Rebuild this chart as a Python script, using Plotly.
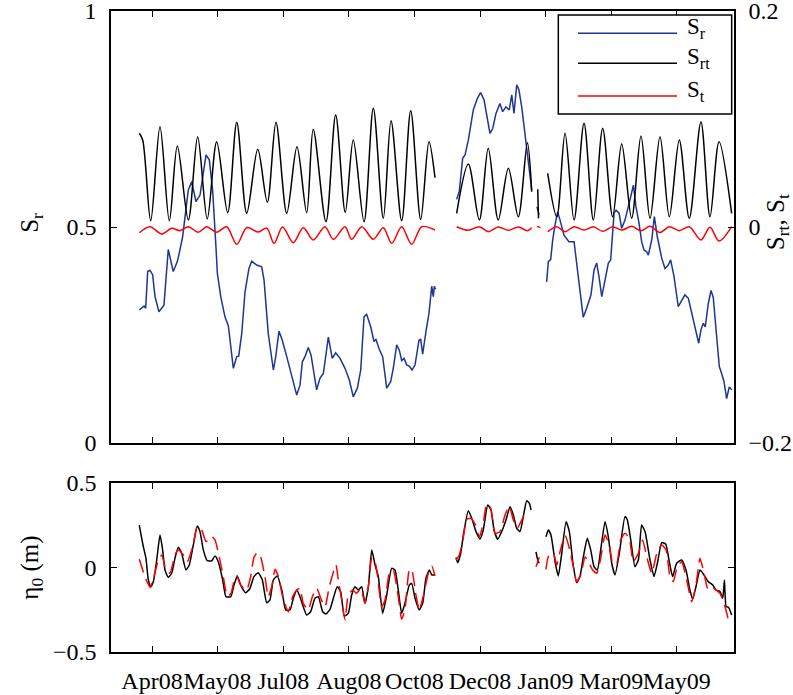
import plotly.graph_objects as go

# ---------------- data (x in days relative to first tick) ----------------
tick_days = [0, 50, 100, 150, 200, 250, 300, 350, 400]
tick_labels = ["Apr08", "May08", "Jul08", "Aug08", "Oct08", "Dec08", "Jan09", "Mar09", "May09"]

# S_r (left axis), None = gap
sr_day = [-9.7, -6.1, -4.8, -3.3, -1.5, 0.5, 2.3, 5.3, 9.1, 12.4, 16.2, 19.3, 21.3, 23.4, 25.2, 27.7, 30.3, 33.5,
          36.6, 41.2, 43.7, 46.2, 48.8, 49.8, 52.4, 55.6, 58.2, 62.0, 64.6, 66.1, 68.4, 70.9, 73.9, 76.0, 79.8,
          83.6, 85.4, 88.6, 92.5, 94.3, 96.8, 99.3, 102.7, 106.5, 110.3, 112.8, 114.6, 116.6, 119.1, 121.2,
          125.5, 128.0, 130.6, 134.4, 137.4, 140.0, 143.3, 147.1, 150.4, 153.4, 156.5, 159.1, 161.6, 163.6,
          166.7, 169.2, 170.7, 173.2, 175.8, 178.9, 181.9, 183.9, 186.5, 188.5, 190.3, 192.1, 194.1, 196.1,
          198.2, 200.5, 203.5, 204.8, 206.3, 208.8, 211.1, 213.2, 214.4, 215.2, 216.2, None,
          232.2, 234.2, 236.8, 238.6, 241.1, 244.9, 248.0, 250.5, 253.1, 255.1, 257.6, 259.7, 262.2, 265.2,
          267.3, 269.8, 272.3, 274.2, 275.9, 278.0, 279.7, 281.8, 285.1, 287.6, 289.4, None,
          293.4, 295.0, None,
          300.8, 302.1, 303.9, 305.4, 307.2, 309.2, 311.0, 314.0, 317.8, 321.7, 324.9, 328.7, 331.3, 334.6,
          336.9, 338.9, 340.7, 342.8, 345.3, 347.8, 349.6, 352.2, 353.7, 356.0, 358.0, 360.5, 364.3, 366.9,
          368.9, 371.2, 373.2, 375.0, 377.0, 378.3, 380.9, 382.9, 385.1, 388.5, 391.0, 393.5, 395.3, 397.9,
          401.1, 403.7, 406.2, 408.8, 412.1, 415.2, 416.7, 418.4, 420.2, 421.7, 424.0, 426.1, 427.8, 430.4,
          432.4, 434.2, 436.0, 438.0, 440.0, 441.8]
sr_val = [0.308, 0.317, 0.312, 0.397, 0.400, 0.389, 0.339, 0.304, 0.319, 0.448, 0.397, 0.420, 0.447, 0.478, 0.524,
          0.586, 0.605, 0.559, 0.574, 0.667, 0.655, 0.586, 0.451, 0.393, 0.339, 0.292, 0.271, 0.173, 0.200, 0.201,
          0.254, 0.350, 0.404, 0.421, 0.412, 0.408, 0.377, 0.254, 0.169, 0.200, 0.259, 0.238, 0.200, 0.153, 0.111,
          0.134, 0.188, 0.200, 0.221, 0.204, 0.123, 0.150, 0.161, 0.245, 0.196, 0.209, 0.196, 0.173, 0.146, 0.107,
          0.127, 0.169, 0.292, 0.298, 0.269, 0.235, 0.240, 0.217, 0.200, 0.127, 0.142, 0.173, 0.227, 0.215, 0.191,
          0.196, 0.181, 0.178, 0.169, 0.181, 0.238, 0.240, 0.206, 0.258, 0.300, 0.363, 0.339, 0.363, 0.356, None,
          0.564, 0.582, 0.659, 0.667, 0.701, 0.771, 0.798, 0.811, 0.794, 0.763, 0.717, 0.728, 0.763, 0.786, 0.767,
          0.778, 0.771, 0.806, 0.763, 0.829, 0.817, 0.778, 0.701, 0.632, 0.586, None,
          0.547, 0.528, None,
          0.373, 0.420, 0.425, 0.470, 0.505, 0.535, 0.516, 0.481, 0.466, 0.466, 0.385, 0.291, 0.312, 0.343, 0.400,
          0.417, 0.385, 0.339, 0.377, 0.416, 0.424, 0.532, 0.539, 0.532, 0.497, 0.516, 0.5625, 0.597, 0.547, 0.509,
          0.466, 0.447, 0.443, 0.435, 0.470, 0.524, 0.478, 0.428, 0.404, 0.412, 0.424, 0.385, 0.316, 0.331, 0.343,
          0.335, 0.289, 0.246, 0.231, 0.262, 0.277, 0.269, 0.323, 0.353, 0.337, 0.246, 0.177, 0.161, 0.142, 0.103,
          0.130, 0.123]

# S_rt (right axis)
srt_day = [-9.7, -7.1, -1.0, 6.1, 13.2, 19.3, 27.7, 34.8, 42.1, 49.3, 57.7, 64.6, 72.2, 80.6, 87.9, 94.5, 102.7,
           110.5, 117.9, 122.9, 132.6, 140.0, 147.3, 153.4, 161.6, 168.7, 176.3, 182.2, 190.3, 197.2, 204.8, 211.1,
           215.7, None,
           232.2, 241.1, 249.5, 256.3, 263.9, 271.6, 279.2, 286.1, 289.4, None,
           294.0, 294.6, None,
           301.6, 308.5, 314.8, 321.7, 329.3, 336.4, 343.5, 351.1, 358.0, 365.6, 372.7, 379.6, 387.2, 394.3,
           401.9, 409.5, 418.4, 425.3, 432.2, 441.8]
srt_val = [0.0868, 0.0806, 0.0058, 0.0929, 0.0058, 0.075, 0.0065, 0.0836, 0.0074, 0.079, 0.0132, 0.0969, 0.0127,
           0.0719, 0.0229, 0.0969, 0.0127, 0.0744, 0.0132, 0.0905, 0.0049, 0.1037, 0.0136, 0.0806, 0.0049, 0.1099,
           0.0081, 0.0984, 0.0058, 0.1077, 0.0071, 0.079, 0.0456, None,
           0.0127, 0.0583, 0.0065, 0.0729, 0.0065, 0.0544, 0.0095, 0.0781, 0.0327, None,
           0.035, 0.008, None,
           0.0497, 0.0095, 0.0868, 0.0065, 0.096, 0.0065, 0.0914, 0.0095, 0.0769, 0.0081, 0.0843, 0.0081, 0.0836,
           0.0095, 0.0806, 0.0081, 0.0972, 0.0095, 0.079, 0.0127]

# S_t (right axis)
st_day = [-9.7, -1.5, 7.4, 15.0, 21.3, 27.7, 35.3, 41.7, 49.3, 56.9, 64.6, 72.2, 81.0, 87.5, 93.0, 99.5, 107.7,
          115.3, 122.9, 131.8, 138.2, 147.1, 152.2, 159.9, 168.7, 176.3, 182.7, 190.3, 197.9, 205.6, 215.7, None,
          232.2, 241.1, 249.5, 256.3, 263.9, 271.6, 279.2, 286.1, 289.4, None,
          293.4, 296.1, None,
          301.6, 308.5, 314.8, 321.7, 329.3, 336.4, 343.5, 351.1, 358.0, 365.6, 372.7, 379.6, 387.2, 394.3,
          401.9, 409.5, 418.4, 425.3, 432.2, 441.8]
st_val = [-0.0053, 0.0003, -0.0065, -0.0012, -0.0034, 0.0003, -0.0049, 0.0003, -0.0049, 0.0003, -0.016, -0.0006,
          -0.0046, -0.0010, -0.0151, 0.0, -0.0145, -0.0006, -0.012, 0.0003, -0.0114, 0.0003, -0.0114, 0.0003,
          -0.0114, -0.0006, -0.0151, 0.0003, -0.016, 0.0003, -0.0028, None,
          0.0003, -0.003, 0.0003, -0.0043, 0.0, -0.003, 0.0, -0.0034, -0.0006, None,
          0.0006, -0.0006, None,
          -0.0043, 0.0003, -0.0043, 0.0003, -0.0028, 0.0003, -0.004, 0.0003, -0.0028, 0.0006, -0.0034, 0.0006,
          -0.005, 0.0003, -0.0034, 0.0003, -0.012, -0.0003, -0.013, 0.0003]

# eta_0 observed (black)
eta_day = [-9.7, -6.6, -4.6, -2.8, -1.0, 1.0, 3.6, 6.1, 8.1, 9.9, 12.4, 15.0, 17.5, 20.0, 22.6, 25.9, 28.4, 31.5,
           34.5, 36.6, 39.1, 42.1, 45.5, 48.0, 50.5, 53.9, 56.4, 60.0, 62.5, 65.0, 67.6, 71.4, 74.7, 77.7, 81.0,
           84.1, 87.4, 89.9, 92.5, 95.5, 98.9, 101.9, 105.2, 107.7, 110.3, 112.8, 114.8, 117.9, 120.9, 124.2,
           126.8, 130.1, 132.6, 135.7, 138.2, 141.2, 143.8, 146.6, 149.6, 152.2, 154.7, 157.2, 159.8, 162.3,
           164.9, 167.5, 170.0, 172.5, 175.8, 178.9, 182.7, 185.2, 187.7, 190.3, 192.8, 196.1, 197.9, 200.5,
           203.7, 206.3, 208.8, 211.4, 213.2, 215.7, None,
           231.7, 233.0, 235.3, 237.3, 241.1, 243.7, 247.0, 250.0, 252.5, 255.9, 258.4, 260.7, 263.5, 266.5,
           269.8, 272.9, 275.4, 278.0, 280.5, 283.0, 285.6, 287.6, 288.9, None,
           292.7, 293.7, 295.0, None,
           300.3, 302.1, 304.1, 305.9, 307.9, 309.7, 312.3, 315.6, 318.1, 320.7, 323.7, 326.2, 328.8, 331.8,
           334.4, 336.9, 339.4, 342.0, 345.3, 347.8, 350.4, 352.9, 356.2, 360.5, 362.3, 364.9, 368.1, 370.7,
           373.2, 375.8, 379.6, 382.6, 385.2, 388.5, 391.5, 394.3, 396.8, 399.9, 403.7, 407.0, 410.0, 412.1,
           414.6, 417.7, 420.7, 424.0, 427.4, 429.9, 433.0, 435.0, 436.3, 437.6, 439.4, 441.8]
eta_val = [0.251, 0.123, 0.054, -0.074, -0.114, -0.084, 0.044, 0.192, 0.104, -0.015, -0.058, -0.034, 0.054, 0.120,
           0.084, -0.015, 0.015, 0.133, 0.246, 0.212, 0.104, 0.040, 0.040, 0.068, 0.034, -0.074, -0.173, -0.173,
           -0.104, -0.050, -0.104, -0.149, -0.123, -0.054, -0.031, -0.074, -0.208, -0.192, -0.074, -0.050, -0.133,
           -0.251, -0.251, -0.182, -0.133, -0.173, -0.222, -0.281, -0.262, -0.182, -0.173, -0.262, -0.275, -0.247,
           -0.182, -0.114, -0.143, -0.287, -0.271, -0.163, -0.114, -0.133, -0.114, -0.212, -0.114, 0.104, 0.015,
           -0.054, -0.271, -0.163, -0.005, -0.015, -0.133, -0.271, -0.212, -0.104, -0.094, -0.182, -0.251, -0.212,
           -0.064, -0.015, -0.044, -0.044, None,
           0.060, 0.028, 0.084, 0.192, 0.336, 0.291, 0.212, 0.169, 0.222, 0.370, 0.340, 0.222, 0.167, 0.212, 0.281,
           0.360, 0.311, 0.232, 0.212, 0.301, 0.395, 0.380, 0.340, None,
           0.093, 0.054, 0.025, None,
           0.182, 0.222, 0.192, 0.104, 0.005, -0.050, 0.084, 0.271, 0.212, 0.034, -0.090, -0.054, 0.064, 0.173,
           0.104, 0.005, -0.015, 0.104, 0.271, 0.182, 0.025, -0.044, 0.084, 0.301, 0.281, 0.163, 0.005, 0.044,
           0.251, 0.212, 0.044, -0.054, 0.025, 0.147, 0.139, 0.034, -0.054, 0.025, 0.044, -0.015, -0.133, -0.188,
           -0.114, -0.015, -0.044, -0.084, -0.104, -0.133, -0.143, -0.182, -0.074, -0.232, -0.235, -0.281]

# eta_0 model (red dashed)
etam_day = [-9.7, -7.1, -5.3, -1.5, 1.5, 4.8, 7.4, 10.7, 13.7, 17.5, 20.0, 23.9, 26.9, 31.0, 34.5, 37.9, 41.2,
            45.5, 48.0, 51.3, 54.3, 57.4, 60.2, 62.7, 64.6, 67.6, 72.2, 75.2, 77.7, 80.3, 82.9, 86.1, 88.6, 91.2,
            93.8, 96.3, 99.6, 103.9, 107.2, 110.3, 112.8, 115.3, 119.1, 122.2, 125.5, 128.6, 131.9, 135.1, 140.2,
            142.0, 144.6, 147.1, 149.6, 153.0, 156.0, 159.1, 162.3, 164.9, 167.5, 169.2, 171.3, 175.1, 177.6,
            180.9, 183.9, 187.7, 190.3, 192.8, 196.1, 197.9, 201.2, 203.7, 207.3, 210.6, 213.2, 215.7, None,
            231.7, 234.2, 236.8, 239.9, 242.9, 246.2, 249.5, 252.5, 255.1, 258.2, 261.4, 265.2, 269.1, 272.3,
            275.4, 278.4, 281.8, 285.1, 286.1, None,
            292.7, 295.2, None,
            300.3, 302.1, 305.9, 308.5, 311.0, 314.8, 318.1, 321.1, 323.7, 326.8, 330.1, 332.6, 335.9, 339.0,
            342.0, 345.3, 348.6, 351.2, 354.2, 357.2, 360.5, 363.8, 366.8, 370.7, 374.0, 377.1, 380.9, 385.1,
            388.5, 391.8, 394.8, 397.3, 400.4, 403.7, 407.5, 411.4, 414.6, 417.7, 420.2, 424.0, 427.8, 432.9,
            436.0, 438.1, 439.3]
etam_val = [0.049, -0.015, -0.058, -0.117, -0.054, 0.044, 0.074, -0.015, -0.034, 0.074, 0.104, 0.074, 0.034, 0.123,
            0.241, 0.222, 0.153, 0.182, 0.163, 0.060, -0.054, -0.169, -0.153, -0.074, -0.050, -0.104, -0.133,
            -0.054, 0.060, 0.088, 0.060, -0.054, -0.173, -0.114, -0.011, -0.054, -0.173, -0.262, -0.173, -0.133,
            -0.123, -0.212, -0.251, -0.173, -0.123, -0.182, -0.232, -0.114, 0.015, -0.074, -0.192, -0.311, -0.163,
            -0.133, -0.153, -0.123, -0.212, -0.114, 0.054, 0.054, -0.015, -0.232, -0.192, -0.034, -0.015, -0.173,
            -0.306, -0.251, -0.015, -0.011, -0.163, -0.251, -0.153, -0.034, 0.009, -0.050, None,
            0.044, 0.074, 0.153, 0.285, 0.291, 0.257, 0.182, 0.261, 0.376, 0.350, 0.202, 0.212, 0.311, 0.364, 0.281,
            0.232, 0.281, 0.330, 0.321, None,
            0.005, 0.060, None,
            -0.011, 0.064, 0.084, 0.015, 0.093, 0.192, 0.114, 0.005, -0.084, -0.044, 0.064, 0.034, -0.015, -0.034,
            0.054, 0.192, 0.133, 0.025, 0.025, 0.163, 0.202, 0.173, 0.034, 0.084, 0.163, 0.064, -0.034, 0.093,
            0.133, 0.104, -0.054, -0.084, 0.005, 0.034, -0.074, -0.202, -0.104, 0.054, -0.015, -0.133, -0.123,
            -0.153, -0.212, -0.271, -0.311]

# ---------------- figure ----------------
BLUE = "#1f3596"
FONT = "Liberation Serif"
X_RANGE = [-31.25, 443.6]
TOP_DOMAIN = [0.326, 1.0]
BOT_DOMAIN = [0.0, 0.2637]

fig = go.Figure()
fig.add_trace(go.Scatter(x=sr_day, y=sr_val, mode="lines", line=dict(color=BLUE, width=1.5),
                         xaxis="x", yaxis="y", name="S_r", showlegend=False))
fig.add_trace(go.Scatter(x=srt_day, y=srt_val, mode="lines",
                         line=dict(color="black", width=1.5, shape="spline", smoothing=0.9),
                         xaxis="x", yaxis="y2", name="S_rt", showlegend=False))
fig.add_trace(go.Scatter(x=st_day, y=st_val, mode="lines",
                         line=dict(color="red", width=1.5, shape="spline", smoothing=0.9),
                         xaxis="x", yaxis="y2", name="S_t", showlegend=False))
fig.add_trace(go.Scatter(x=eta_day, y=eta_val, mode="lines",
                         line=dict(color="black", width=1.5, shape="spline", smoothing=0.5),
                         xaxis="x2", yaxis="y3", showlegend=False))
fig.add_trace(go.Scatter(x=etam_day, y=etam_val, mode="lines",
                         line=dict(color="red", width=1.5, dash="14px,7px", shape="spline", smoothing=0.5),
                         xaxis="x2", yaxis="y3", showlegend=False))

axis_common = dict(showline=True, linecolor="black", linewidth=1.5, ticks="inside", ticklen=6,
                   tickcolor="black", tickwidth=1, showgrid=False, zeroline=False, automargin=False,
                   tickangle=0, ticklabeloverflow="allow",
                   tickfont=dict(family=FONT, size=24, color="black"))

fig.update_layout(
    width=793, height=695,
    margin=dict(l=111, r=59, t=11, b=43, autoexpand=False),
    paper_bgcolor="white", plot_bgcolor="white",
    font=dict(family=FONT, color="black"),
    xaxis=dict(domain=[0, 1], range=X_RANGE, anchor="y", tickvals=tick_days, showticklabels=False,
               mirror="ticks", **axis_common),
    yaxis=dict(domain=TOP_DOMAIN, range=[0, 1], anchor="x", tickvals=[0, 0.5, 1],
               ticktext=["0", "0.5", "1"], ticklabelstandoff=8, **axis_common),
    yaxis2=dict(domain=TOP_DOMAIN, range=[-0.2, 0.2], anchor="x", overlaying="y", side="right",
                tickvals=[-0.2, 0, 0.2], ticktext=["\u22120.2", "0", "0.2"], ticklabelstandoff=8, **axis_common),
    xaxis2=dict(domain=[0, 1], range=X_RANGE, anchor="y3", tickvals=tick_days, ticktext=tick_labels,
                mirror="ticks", ticklabelstandoff=6, **axis_common),
    yaxis3=dict(domain=BOT_DOMAIN, range=[-0.5, 0.5], anchor="x2", tickvals=[-0.5, 0, 0.5],
                ticktext=["\u22120.5", "0", "0.5"], mirror="ticks", ticklabelstandoff=8, **axis_common),
)

# axis titles
title_font = dict(family=FONT, size=25, color="black")
fig.add_annotation(xref="paper", yref="paper", x=-0.128, y=0.67, text="S<sub>r</sub>", textangle=-90,
                   showarrow=False, font=title_font, xanchor="center", yanchor="middle")
fig.add_annotation(xref="paper", yref="paper", x=-0.128, y=0.132, text="\u03b7<sub>0</sub> (m)", textangle=-90,
                   showarrow=False, font=title_font, xanchor="center", yanchor="middle")
fig.add_annotation(xref="paper", yref="paper", x=1.07, y=0.67, text="S<sub>rt</sub>, S<sub>t</sub>", textangle=-90,
                   showarrow=False, font=title_font, xanchor="center", yanchor="middle")

# legend drawn manually (long sample lines)
fig.add_shape(type="rect", xref="paper", yref="paper", x0=0.718, x1=0.9963, y0=0.8393, y1=0.9938,
              line=dict(color="black", width=1.5), fillcolor="white", layer="above")
legend_items = [("S<sub>r</sub>", BLUE, 0.9652), ("S<sub>rt</sub>", "black", 0.9184), ("S<sub>t</sub>", "red", 0.8674)]
for txt, col, yy in legend_items:
    fig.add_shape(type="line", xref="paper", yref="paper", x0=0.7496, x1=0.9085, y0=yy, y1=yy,
                  line=dict(color=col, width=1.5), layer="above")
    fig.add_annotation(xref="paper", yref="paper", x=0.9215, y=yy + 0.008, text=txt, showarrow=False,
                       font=dict(family=FONT, size=23, color="black"), xanchor="left", yanchor="middle")

# remove the browser's default 8px body margin so the figure sits at the page origin
fig.write_html("out.html", config={"displayModeBar": False},
               post_script="document.body.style.margin='0';document.body.style.overflow='hidden';")
